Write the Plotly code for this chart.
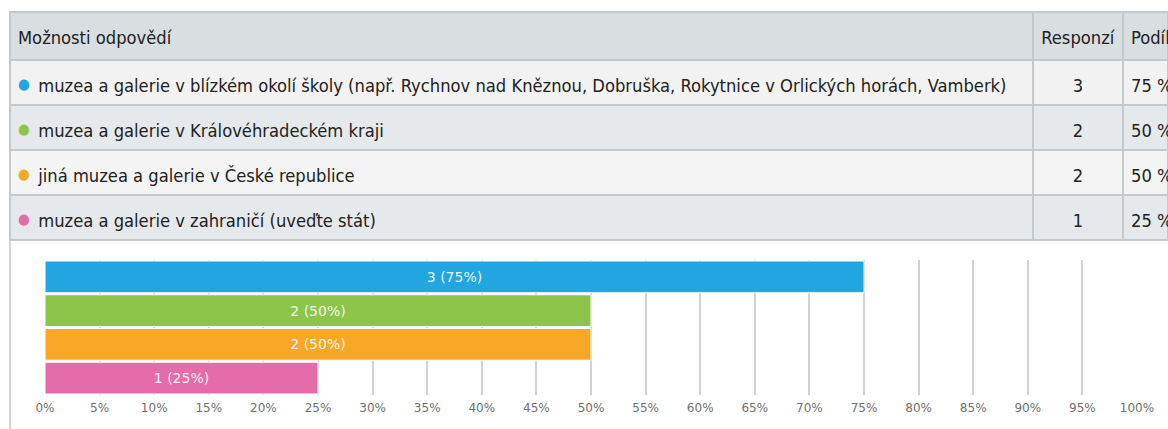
import plotly.graph_objects as go

# ---- data ----
categories = [
    "muzea a galerie v blízkém okolí školy (např. Rychnov nad Kněznou, Dobruška, Rokytnice v Orlických horách, Vamberk)",
    "muzea a galerie v Královéhradeckém kraji",
    "jiná muzea a galerie v České republice",
    "muzea a galerie v zahraničí (uveďte stát)",
]
responses = [3, 2, 2, 1]
shares = [75, 50, 50, 25]
header_labels = ["Možnosti odpovědí", "Responzí", "Podíl"]
bar_colors = ["#21a6e1", "#8cc54a", "#f9a726", "#e46ca8"]
row_fills = ["#f2f2f2", "#e6e9eb", "#f4f4f4", "#e6e9eb"]

W, H = 1168, 429
table_font = "DejaVu Sans Condensed, Liberation Sans Narrow, sans-serif"
chart_font = "DejaVu Sans, Verdana, sans-serif"
BASE = 15.6    # base size of table text (sets the leading of the spacer line)
TXT = 18.2     # visible size of table text
# an invisible tiny first line pushes the real text down to the row middle
SPACER = "<span style='font-size:4px;color:rgba(0,0,0,0)'>.</span><br>"


def cell(txt):
    return f"{SPACER}<span style='font-size:{TXT}px'>{txt}</span>"


col1 = [
    f"{SPACER}<span style='color:{c};font-size:15px;baseline-shift:3px'>●</span>"
    f"<span style='font-size:{TXT}px'>\u00a0\u2009{t}</span>"
    for c, t in zip(bar_colors, categories)
]
col2 = [cell(str(r)) for r in responses]
col3 = [cell(f"{s} %") for s in shares]

fig = go.Figure()

fig.add_trace(go.Table(
    domain=dict(x=[10 / W, 1], y=[0.40, 1 - 12 / H]),
    columnwidth=[1023, 90, 45],
    header=dict(
        values=[cell(h) for h in header_labels],
        fill_color="#d9dee1",
        line=dict(color="#c3c9cc", width=1.5),
        align=["left", "center", "left"],
        height=48,
        font=dict(family=table_font, size=BASE, color="#222222"),
    ),
    cells=dict(
        values=[col1, col2, col3],
        fill=dict(color=[row_fills, row_fills, row_fills]),
        line=dict(color="#c3c9cc", width=1.5),
        align=["left", "center", "left"],
        height=45,
        font=dict(family=table_font, size=BASE, color="#222222"),
    ),
))

fig.add_trace(go.Bar(
    y=categories,
    x=shares,
    orientation="h",
    marker=dict(color=bar_colors, line=dict(color="#ffffff", width=1)),
    text=[f"{r} ({s}%)" for r, s in zip(responses, shares)],
    textposition="inside",
    insidetextanchor="middle",
    textangle=0,
    textfont=dict(family=chart_font, size=14, color="rgba(255,255,255,0.92)"),
    hoverinfo="skip",
    showlegend=False,
))

fig.update_layout(
    width=W,
    height=H,
    margin=dict(l=0, r=0, t=0, b=0),
    paper_bgcolor="#ffffff",
    plot_bgcolor="#ffffff",
    bargap=0.06,
    showlegend=False,
    xaxis=dict(
        domain=[45 / W, 1137 / W],
        range=[0, 100],
        dtick=5,
        ticksuffix="%",
        showgrid=True,
        gridcolor="#d2d2d2",
        gridwidth=1.5,
        zeroline=False,
        showline=False,
        ticks="",
        ticklabelstandoff=4,
        tickfont=dict(family=chart_font, size=12, color="#707070"),
        automargin=False,
        fixedrange=True,
    ),
    yaxis=dict(
        domain=[1 - 395 / H, 1 - 260 / H],
        autorange="reversed",
        showticklabels=False,
        showgrid=False,
        zeroline=False,
        showline=False,
        ticks="",
        automargin=False,
        fixedrange=True,
    ),
    shapes=[
        dict(type="line", xref="paper", yref="paper", x0=10 / W, x1=10 / W,
             y0=0, y1=1 - 240 / H, line=dict(color="#c3c9cc", width=1.5)),
    ],
)

fig.write_html(
    "out.html",
    config={"displayModeBar": False},
    post_script="document.body.style.margin='0';document.body.style.overflow='hidden';",
)
